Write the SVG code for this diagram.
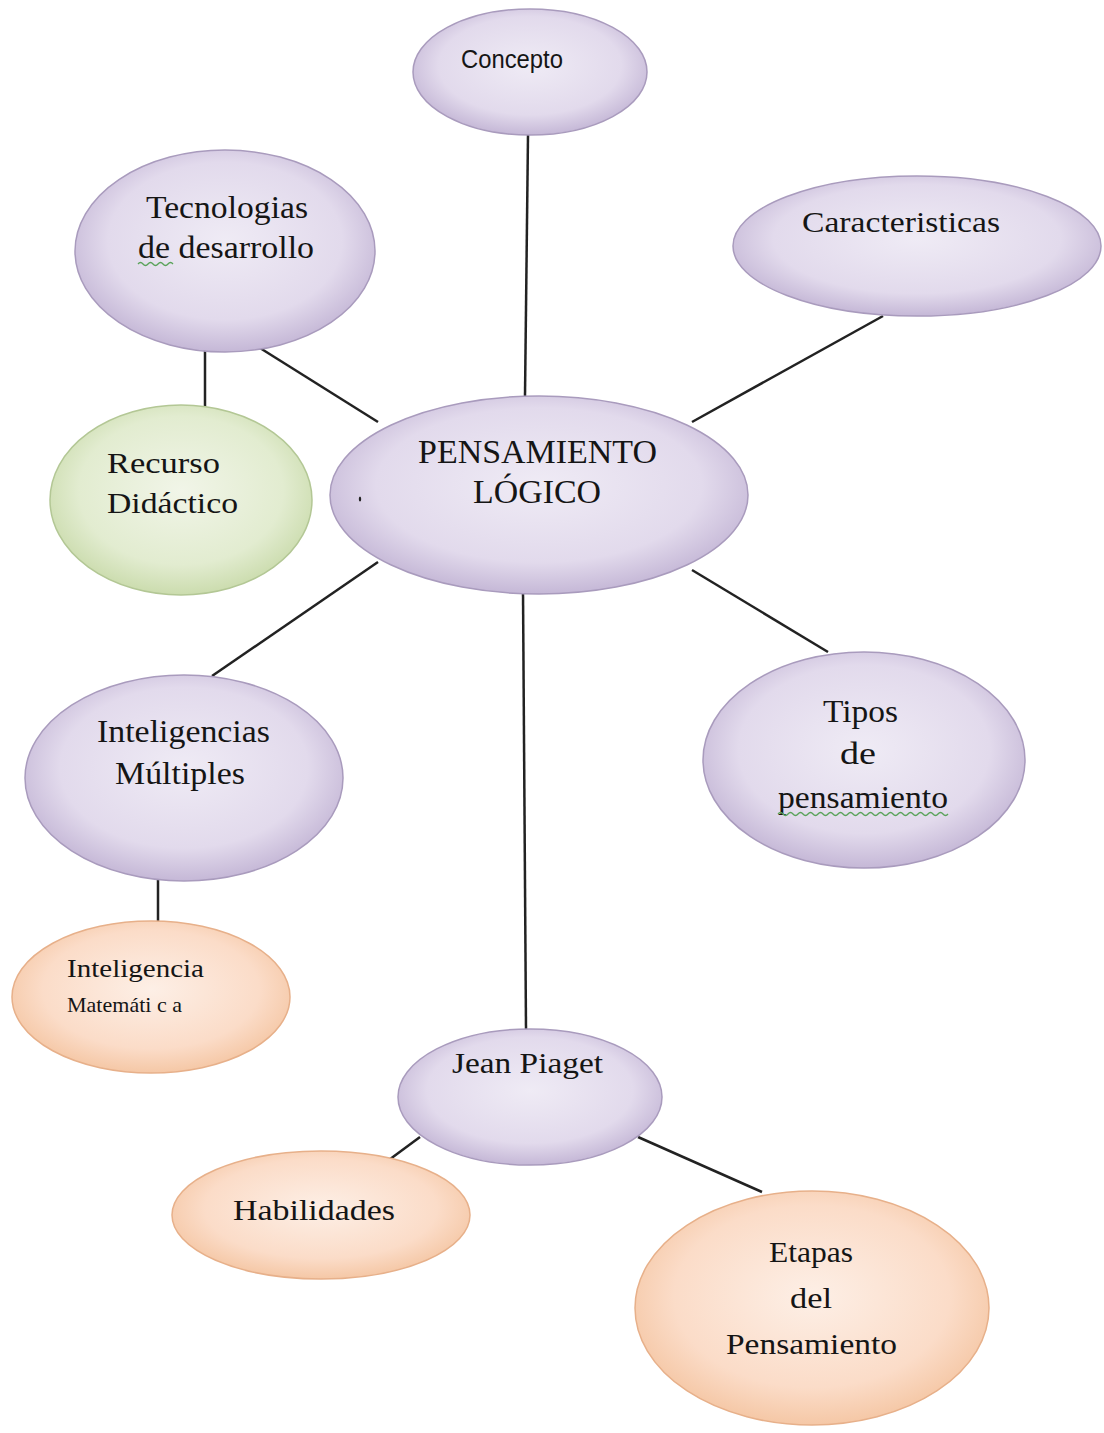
<svg xmlns="http://www.w3.org/2000/svg" width="1104" height="1433" viewBox="0 0 1104 1433">
<defs>
<radialGradient id="gP" cx="50%" cy="45%" r="60%">
<stop offset="0" stop-color="#efebf5"/>
<stop offset="0.65" stop-color="#e2daec"/>
<stop offset="1" stop-color="#bcadd0"/>
</radialGradient>
<radialGradient id="gG" cx="50%" cy="45%" r="60%">
<stop offset="0" stop-color="#f1f5e8"/>
<stop offset="0.65" stop-color="#e2ecd0"/>
<stop offset="1" stop-color="#c4d7a3"/>
</radialGradient>
<radialGradient id="gO" cx="50%" cy="45%" r="60%">
<stop offset="0" stop-color="#fdefe6"/>
<stop offset="0.65" stop-color="#fbdcc8"/>
<stop offset="1" stop-color="#f3c19b"/>
</radialGradient>
</defs>
<style>
.p{fill:url(#gP);stroke:#a99bbd;stroke-width:1.5}
.g{fill:url(#gG);stroke:#b3c795;stroke-width:1.5}
.o{fill:url(#gO);stroke:#e7b08a;stroke-width:1.5}
.t{font-family:"Liberation Serif","Times New Roman",serif;fill:#151515}
.s{font-family:"Liberation Sans",Arial,sans-serif;fill:#151515}
.c{fill:none;stroke:#222;stroke-width:2.5}
.w{fill:none;stroke:#5aa35a;stroke-width:1.3}
</style>
<rect width="1104" height="1433" fill="#ffffff"/>
<g id="connectors">
<line class="c" x1="528" y1="135" x2="525" y2="396"/>
<line class="c" x1="205" y1="350" x2="205" y2="407"/>
<line class="c" x1="260" y1="348" x2="378" y2="422"/>
<line class="c" x1="883" y1="316" x2="692" y2="422"/>
<line class="c" x1="378" y1="562" x2="212" y2="676"/>
<line class="c" x1="692" y1="570" x2="828" y2="652"/>
<line class="c" x1="523" y1="592" x2="526" y2="1030"/>
<line class="c" x1="158" y1="880" x2="158" y2="922"/>
<line class="c" x1="420" y1="1137" x2="378" y2="1168"/>
<line class="c" x1="638" y1="1137" x2="762" y2="1192"/>
</g>
<g id="concepto">
<ellipse class="p" cx="530" cy="72" rx="117" ry="63"/>
<text class="s" x="461" y="68" font-size="26" textLength="102" lengthAdjust="spacingAndGlyphs">Concepto</text>
</g>
<g id="tecnologias">
<ellipse class="p" cx="225" cy="251" rx="150" ry="101"/>
<text class="t" x="146" y="218" font-size="32" textLength="162" lengthAdjust="spacingAndGlyphs">Tecnologias</text>
<text class="t" x="138" y="258" font-size="32" textLength="176" lengthAdjust="spacingAndGlyphs">de desarrollo</text>
<path class="w" d="M138 264 q2.5 -3 5 0 t5 0 t5 0 t5 0 t5 0 t5 0 t5 0"/>
</g>
<g id="caracteristicas">
<ellipse class="p" cx="917" cy="246" rx="184" ry="70"/>
<text class="t" x="802" y="232" font-size="30" textLength="198" lengthAdjust="spacingAndGlyphs">Caracteristicas</text>
</g>
<g id="recurso">
<ellipse class="g" cx="181" cy="500" rx="131" ry="95"/>
<text class="t" x="107" y="473" font-size="30" textLength="113" lengthAdjust="spacingAndGlyphs">Recurso</text>
<text class="t" x="107" y="513" font-size="30" textLength="131" lengthAdjust="spacingAndGlyphs">Didáctico</text>
</g>
<g id="pensamiento-logico">
<ellipse class="p" cx="539" cy="495" rx="209" ry="99"/>
<text class="t" x="418" y="463" font-size="34" textLength="239" lengthAdjust="spacingAndGlyphs">PENSAMIENTO</text>
<text class="t" x="473" y="503" font-size="34" textLength="128" lengthAdjust="spacingAndGlyphs">LÓGICO</text>
<ellipse cx="360" cy="499" rx="1.2" ry="2.5" fill="#222"/>
</g>
<g id="inteligencias-multiples">
<ellipse class="p" cx="184" cy="778" rx="159" ry="103"/>
<text class="t" x="97" y="742" font-size="31" textLength="173" lengthAdjust="spacingAndGlyphs">Inteligencias</text>
<text class="t" x="115" y="784" font-size="31" textLength="130" lengthAdjust="spacingAndGlyphs">Múltiples</text>
</g>
<g id="tipos">
<ellipse class="p" cx="864" cy="760" rx="161" ry="108"/>
<text class="t" x="823" y="722" font-size="31" textLength="75" lengthAdjust="spacingAndGlyphs">Tipos</text>
<text class="t" x="840" y="764" font-size="31" textLength="36" lengthAdjust="spacingAndGlyphs">de</text>
<text class="t" x="778" y="808" font-size="31" textLength="170" lengthAdjust="spacingAndGlyphs">pensamiento</text>
<path class="w" d="M778 814 q2.5 -3 5 0 t5 0 t5 0 t5 0 t5 0 t5 0 t5 0 t5 0 t5 0 t5 0 t5 0 t5 0 t5 0 t5 0 t5 0 t5 0 t5 0 t5 0 t5 0 t5 0 t5 0 t5 0 t5 0 t5 0 t5 0 t5 0 t5 0 t5 0 t5 0 t5 0 t5 0 t5 0 t5 0 t5 0"/>
</g>
<g id="inteligencia-matematica">
<ellipse class="o" cx="151" cy="997" rx="139" ry="76"/>
<text class="t" x="67" y="977" font-size="26" textLength="137" lengthAdjust="spacingAndGlyphs">Inteligencia</text>
<text class="t" x="67" y="1012" font-size="21" textLength="115" lengthAdjust="spacingAndGlyphs">Matemáti c a</text>
</g>
<g id="jean-piaget">
<ellipse class="p" cx="530" cy="1097" rx="132" ry="68"/>
<text class="t" x="452" y="1073" font-size="30" textLength="151" lengthAdjust="spacingAndGlyphs">Jean Piaget</text>
</g>
<g id="habilidades">
<ellipse class="o" cx="321" cy="1215" rx="149" ry="64"/>
<text class="t" x="233" y="1220" font-size="30" textLength="162" lengthAdjust="spacingAndGlyphs">Habilidades</text>
</g>
<g id="etapas">
<ellipse class="o" cx="812" cy="1308" rx="177" ry="117"/>
<text class="t" x="769" y="1262" font-size="30" textLength="84" lengthAdjust="spacingAndGlyphs">Etapas</text>
<text class="t" x="790" y="1308" font-size="30" textLength="42" lengthAdjust="spacingAndGlyphs">del</text>
<text class="t" x="726" y="1354" font-size="30" textLength="171" lengthAdjust="spacingAndGlyphs">Pensamiento</text>
</g>
</svg>
